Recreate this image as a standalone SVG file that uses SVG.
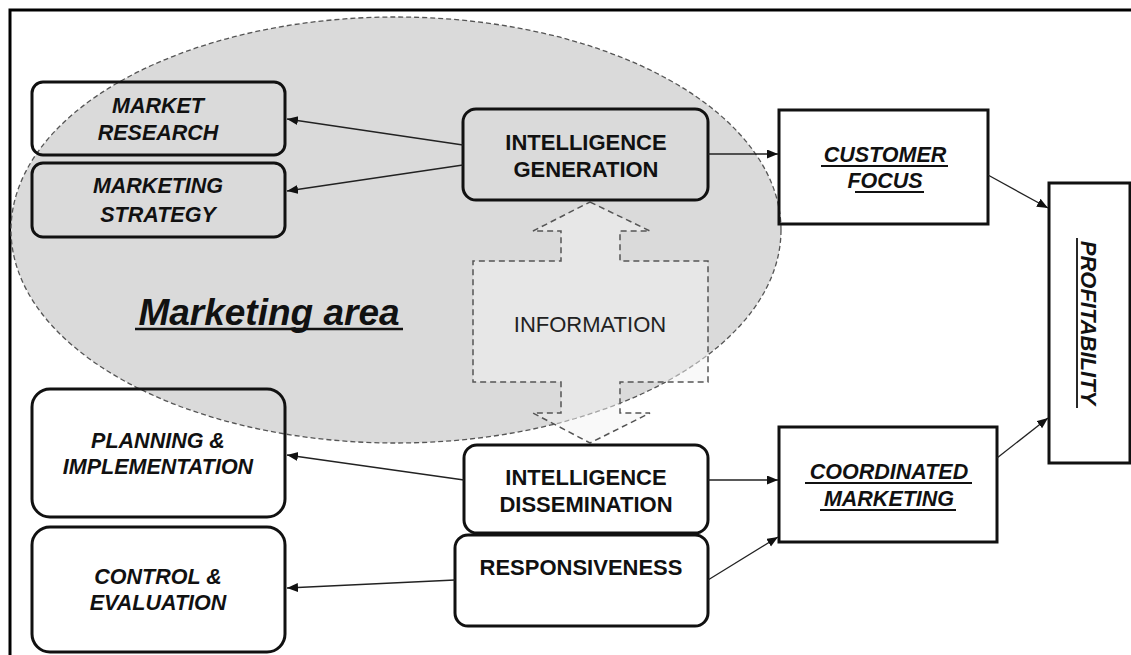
<svg xmlns="http://www.w3.org/2000/svg" width="1131" height="655" viewBox="0 0 1131 655">
<style>
.box{fill:none;stroke:#111;stroke-width:3}
.lbl{font-family:"Liberation Sans",Arial,sans-serif;font-weight:bold;font-style:italic;font-size:21.5px;fill:#111;text-anchor:middle}
.lblb{font-family:"Liberation Sans",Arial,sans-serif;font-weight:bold;font-size:22px;fill:#111;text-anchor:middle}
.ul{stroke:#111;stroke-width:1.8}
.con{stroke:#222;stroke-width:1.3;fill:none;marker-end:url(#ah)}
</style>
<defs>
<marker id="ah" markerUnits="userSpaceOnUse" markerWidth="12" markerHeight="10" refX="11" refY="4.5" orient="auto">
<path d="M0,0 L11,4.5 L0,9 Z" fill="#111"/>
</marker>
</defs>
<rect x="0" y="0" width="1131" height="655" fill="#fff"/>
<rect x="10" y="10" width="1130" height="660" fill="none" stroke="#000" stroke-width="3"/>
<g id="marketing-area">
<ellipse cx="396" cy="230" rx="385" ry="213" fill="#dadada" stroke="#555" stroke-width="1.3" stroke-dasharray="5,3"/>
<text x="269" y="325" font-family="Liberation Sans,Arial,sans-serif" font-weight="bold" font-style="italic" font-size="37" fill="#111" text-anchor="middle">Marketing area</text>
<line x1="135" y1="329" x2="403" y2="329" stroke="#111" stroke-width="2.5"/>
</g>
<g id="information">
<path d="M590,202 L650,231 L620,231 L620,261 L708,261 L708,382 L620,382 L620,413 L650,413 L590,443 L533,413 L561,413 L561,382 L473,382 L473,261 L561,261 L561,231 L533,231 Z" fill="#f4f4f4" fill-opacity="0.5" stroke="#555" stroke-width="1.5" stroke-dasharray="6,4"/>
<text x="590" y="332" font-family="Liberation Sans,Arial,sans-serif" font-size="22" fill="#222" text-anchor="middle">INFORMATION</text>
</g>
<g id="market-research">
<rect class="box" x="32" y="82" width="253" height="73" rx="11"/>
<text class="lbl" x="158" y="113">MARKET</text>
<text class="lbl" x="158" y="140">RESEARCH</text>
</g>
<g id="marketing-strategy">
<rect class="box" x="32" y="163" width="253" height="74" rx="11"/>
<text class="lbl" x="158" y="193">MARKETING</text>
<text class="lbl" x="158" y="222">STRATEGY</text>
</g>
<g id="intelligence-generation">
<rect class="box" x="463" y="109" width="245" height="91" rx="13"/>
<text class="lblb" x="586" y="150">INTELLIGENCE</text>
<text class="lblb" x="586" y="177">GENERATION</text>
</g>
<g id="customer-focus">
<rect class="box" x="779" y="110" width="209" height="114"/>
<text class="lbl" x="885" y="162">CUSTOMER</text>
<line class="ul" x1="821" y1="166" x2="948" y2="166"/>
<text class="lbl" x="885" y="188">FOCUS</text>
<line class="ul" x1="855" y1="192" x2="924" y2="192"/>
</g>
<g id="profitability">
<rect class="box" x="1049" y="183" width="81" height="280"/>
<text class="lbl" transform="translate(1081,323) rotate(90)" x="0" y="0" style="font-size:22px">PROFITABILITY</text>
<line class="ul" x1="1077" y1="238" x2="1077" y2="408"/>
</g>
<g id="coordinated-marketing">
<rect class="box" x="779" y="427" width="218" height="115"/>
<text class="lbl" x="889" y="479">COORDINATED</text>
<line class="ul" x1="805" y1="483" x2="972" y2="483"/>
<text class="lbl" x="889" y="506">MARKETING</text>
<line class="ul" x1="820" y1="510" x2="956" y2="510"/>
</g>
<g id="intelligence-dissemination">
<rect class="box" x="464" y="445" width="244" height="88" rx="13"/>
<text class="lblb" x="586" y="485">INTELLIGENCE</text>
<text class="lblb" x="586" y="512">DISSEMINATION</text>
</g>
<g id="responsiveness">
<rect class="box" x="455" y="535" width="253" height="91" rx="13"/>
<text class="lblb" x="581" y="575">RESPONSIVENESS</text>
</g>
<g id="planning-implementation">
<rect class="box" x="32" y="389" width="253" height="128" rx="18"/>
<text class="lbl" x="158" y="448">PLANNING &amp;</text>
<text class="lbl" x="158" y="474">IMPLEMENTATION</text>
</g>
<g id="control-evaluation">
<rect class="box" x="32" y="527" width="253" height="125" rx="18"/>
<text class="lbl" x="158" y="584">CONTROL &amp;</text>
<text class="lbl" x="158" y="610">EVALUATION</text>
</g>
<g id="connectors">
<line class="con" x1="463" y1="145" x2="287" y2="119"/>
<line class="con" x1="463" y1="165" x2="287" y2="191"/>
<line class="con" x1="708" y1="154" x2="778" y2="154"/>
<line class="con" x1="988" y1="175" x2="1048" y2="208"/>
<line class="con" x1="997" y1="458" x2="1048" y2="418"/>
<line class="con" x1="708" y1="480" x2="778" y2="480"/>
<line class="con" x1="708" y1="580" x2="778" y2="537"/>
<line class="con" x1="464" y1="480" x2="287" y2="455"/>
<line class="con" x1="455" y1="580" x2="287" y2="588"/>
</g>
</svg>
